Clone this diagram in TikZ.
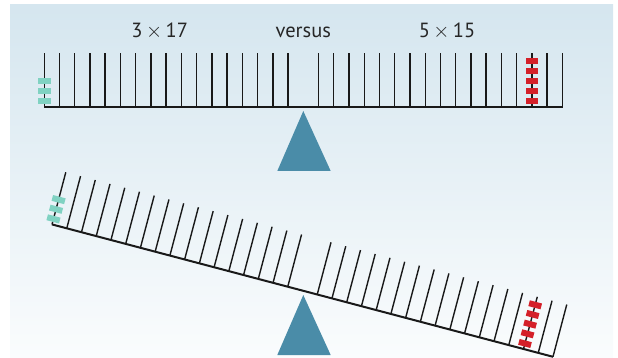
\documentclass[tikz,border=0pt]{standalone}
\usepackage{fontspec}
\setmainfont{PT Sans}
\definecolor{bgtop}{HTML}{D5E6EF}
\definecolor{bgbot}{HTML}{FAFCFD}
\definecolor{fulcrum}{HTML}{4A8CA8}
\definecolor{greenw}{HTML}{80D2C2}
\definecolor{redw}{HTML}{D42029}
\tikzset{
  beamline/.style={line width=2pt, draw=black!90},
  tickline/.style={line width=1.4pt, draw=black!90},
  gblock/.style={fill=greenw, draw=none},
  rblock/.style={fill=redw, draw=none},
  lbl/.style={font=\fontsize{20.5}{24}\selectfont, anchor=base, text=black!85, inner sep=0pt},
}
\newcommand{\mybeam}{%
  \draw[beamline] (-259.2,0) -- (259.2,0);
  \foreach \k in {-17,...,-1,1,2,...,17}{
    \draw[tickline] (\k*15.24,0) -- (\k*15.24,-54);
  }
  \foreach \j in {0,1,2}{
    \fill[gblock] (-17*15.24-6.5,-2.7-\j*10) rectangle (-17*15.24+6.5,-8.7-\j*10);
  }
  \foreach \j in {0,...,4}{
    \fill[rblock] (15*15.24-6.3,-2.7-\j*10) rectangle (15*15.24+6.3,-8.7-\j*10);
  }
}
\begin{document}
\begin{tikzpicture}[x=1pt,y=-1pt]
\useasboundingbox (0,0) rectangle (618,358);
\shade[top color=bgtop, bottom color=bgbot] (10,5) rectangle (613,358);
% labels
\node[lbl] (a) at (159.7,37.7) {3\,$\times$\,17};
\node[lbl] (v) at (303.3,37.7) {versus};
\node[lbl] (b) at (447,37.7) {5\,$\times$\,15};
% top fulcrum
\fill[fulcrum] (303.3,111) -- (330.7,171) -- (277.3,171) -- cycle;
% top beam
\begin{scope}[shift={(303.3,107)}]
\mybeam
\end{scope}
% bottom fulcrum
\fill[fulcrum] (303.3,295) -- (330.7,355) -- (277.3,355) -- cycle;
% tilted beam
\begin{scope}[shift={(302.5,290.6)}, rotate=-14.8]
\mybeam
\end{scope}
\end{tikzpicture}
\end{document}
